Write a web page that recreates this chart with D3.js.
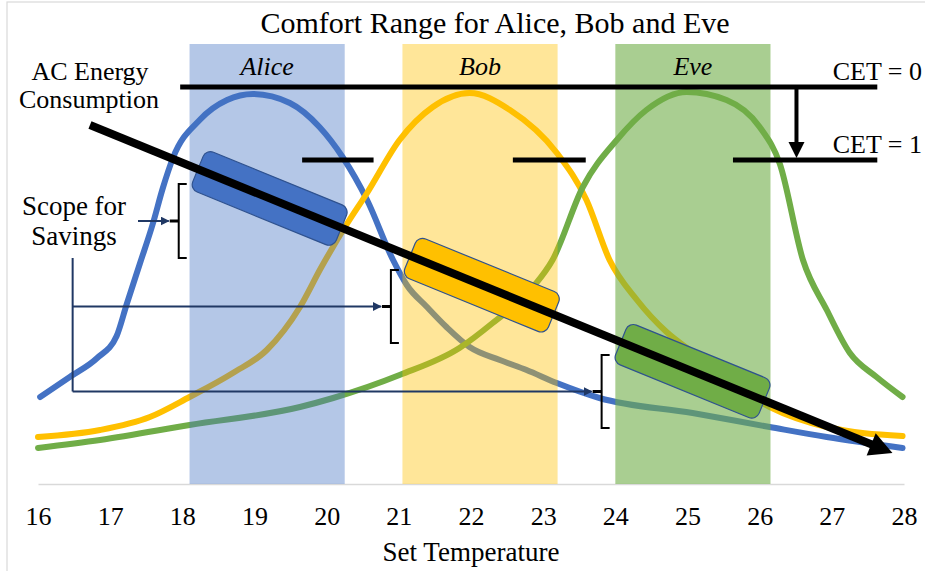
<!DOCTYPE html>
<html>
<head>
<meta charset="utf-8">
<script src="https://cdn.jsdelivr.net/npm/d3@7"></script>
<style>
  body { margin: 0; background: #fff; }
  svg { display: block; }
  text { font-family: "Liberation Serif", "Times New Roman", serif; fill: #000; }
</style>
</head>
<body>
<svg id="chart" width="925" height="571"></svg>
<script>
// ---- data ----------------------------------------------------------------
const xTicks = [16, 17, 18, 19, 20, 21, 22, 23, 24, 25, 26, 27, 28];
const people = ["Alice", "Bob", "Eve"];
const colors = ["#4472C4", "#FFC000", "#70AD47"];

// comfort curves (set temperature -> relative comfort)
const aliceT = [16.03, 16.44, 16.82, 17.09, 17.23, 17.41, 17.59, 17.73, 17.87, 18.24, 18.62, 18.98, 19.49, 19.9, 20.22, 20.56, 20.92, 21.11, 21.39, 21.66, 21.98, 22.4, 22.77, 23.19, 23.78, 25.07, 26.14, 26.93, 27.98];
const aliceV = [21.75, 26.75, 31.5, 37, 45, 55, 65, 74, 81.5, 91, 96, 97.5, 95.25, 89.25, 81.75, 71, 56, 49.75, 44.25, 39.25, 34.25, 31, 28.5, 25.25, 21.5, 17.75, 14.25, 11.75, 9];
const bobT = [16, 16.86, 17.55, 18.1, 18.7, 19.17, 19.63, 19.92, 20.28, 20.56, 21.01, 21.47, 21.98, 22.54, 23.19, 23.6, 23.92, 24.3, 24.71, 25.07, 26.14, 26.93, 27.98];
const bobV = [11.75, 13.5, 16.75, 21.75, 27.75, 33.5, 44.25, 54, 65, 72.75, 86, 94.25, 97.75, 93.5, 82.75, 71, 56, 46, 38, 33, 19.25, 14.25, 12];
const eveT = [16, 16.86, 18.1, 19.63, 20.09, 21.01, 21.84, 22.3, 22.86, 23.13, 23.55, 24.02, 24.43, 24.99, 25.54, 26, 26.28, 26.6, 26.93, 27.25, 27.62, 27.98];
const eveV = [9, 11, 14.75, 19.25, 21.5, 27.25, 34, 40.25, 49.25, 56, 74.25, 86, 93.5, 98, 96, 89.25, 80, 56, 43.5, 32.75, 26.75, 21.75];

// comfort ranges
const comfortLo = [18.1, 21.05, 24.0];
const comfortHi = [20.25, 23.2, 26.15];

// AC energy consumption trend (start, tip)
const consumptionT = [16.72, 27.84];
const consumptionV = [89.75, 7.75];
// savings boxes sit on the trend at these temperatures
const savingsT = [19.21, 22.15, 25.07];

// CET levels
const cetLabels = ["CET = 0", "CET = 1"];
const cetLevels = [99.25, 81];
const cet0Span = [17.97, 27.63];
const cet1Start = [19.66, 22.58, 25.63];
const cet1End = [20.65, 23.59, 27.63];
const cetArrowT = 26.51;

// scope-for-savings brackets
const bracketT = [17.95, 20.89, 23.81];
const bracketTop = [75, 53.5, 32.25];
const bracketBottom = [56.5, 35.25, 14];
const connectorT = 16.48;

// ---- layout --------------------------------------------------------------
const svg = d3.select("#chart");
const x = d3.scaleLinear().domain([16, 28]).range([38, 904]);
const y = d3.scaleLinear().domain([0, 110]).range([484, 44]);
const navy = "#203864";
const serif = '"Liberation Serif", "Times New Roman", serif';

svg.append("rect").attr("x", 7).attr("y", 2).attr("width", 940).attr("height", 600)
  .attr("fill", "none").attr("stroke", "#d9d9d9").attr("stroke-width", 1.2);

svg.append("defs").append("marker")
  .attr("id", "navyHead").attr("viewBox", "0 0 10 10").attr("refX", 9).attr("refY", 5)
  .attr("markerWidth", 4.5).attr("markerHeight", 4.5).attr("markerUnits", "strokeWidth")
  .attr("orient", "auto")
  .append("path").attr("d", "M0,0 L10,5 L0,10 Z").attr("fill", navy);

// title
svg.append("text").attr("x", 495).attr("y", 33).attr("text-anchor", "middle")
  .style("font-size", "30px").text("Comfort Range for Alice, Bob and Eve");

// x axis
const axis = svg.append("g").attr("transform", `translate(0,${y(0)})`)
  .call(d3.axisBottom(x).tickValues(xTicks).tickSize(0).tickPadding(23).tickFormat(d3.format("d")));
axis.attr("font-family", serif);
axis.select(".domain").attr("stroke", "#d9d9d9").attr("stroke-width", 1.5);
axis.selectAll("text").style("font-size", "26px").style("font-family", serif).attr("fill", "#000");
svg.append("text").attr("x", (x(16) + x(28)) / 2).attr("y", 561).attr("text-anchor", "middle")
  .style("font-size", "27px").text("Set Temperature");

// comfort curves
const line = d3.line().x(d => x(d[0])).y(d => y(d[1])).curve(d3.curveMonotoneX);
const series = [d3.zip(aliceT, aliceV), d3.zip(bobT, bobV), d3.zip(eveT, eveV)];
svg.append("g").selectAll("path").data(series).join("path")
  .attr("d", line).attr("fill", "none")
  .attr("stroke", (d, i) => colors[i]).attr("stroke-width", 6).attr("stroke-linecap", "round");

// comfort range bands (translucent, over the curves)
const bandOpacity = [0.4, 0.4, 0.6];
svg.append("g").selectAll("rect").data(people).join("rect")
  .attr("x", (d, i) => x(comfortLo[i]))
  .attr("width", (d, i) => x(comfortHi[i]) - x(comfortLo[i]))
  .attr("y", y(110)).attr("height", y(0) - y(110))
  .attr("fill", (d, i) => colors[i]).attr("fill-opacity", (d, i) => bandOpacity[i]);
svg.append("g").selectAll("text").data(people).join("text")
  .attr("x", (d, i) => (x(comfortLo[i]) + x(comfortHi[i])) / 2).attr("y", 75)
  .attr("text-anchor", "middle").style("font-size", "26px").style("font-style", "italic")
  .text(d => d);

// CET lines
const cetG = svg.append("g").attr("stroke", "#000").attr("stroke-width", 5);
cetG.append("line").attr("x1", x(cet0Span[0])).attr("x2", x(cet0Span[1]))
  .attr("y1", y(cetLevels[0])).attr("y2", y(cetLevels[0]));
cetG.selectAll("line.seg").data(cet1Start).join("line").attr("class", "seg")
  .attr("x1", d => x(d)).attr("x2", (d, i) => x(cet1End[i]))
  .attr("y1", y(cetLevels[1])).attr("y2", y(cetLevels[1]));
const ax = x(cetArrowT);
svg.append("line").attr("x1", ax).attr("x2", ax).attr("y1", y(cetLevels[0]))
  .attr("y2", y(cetLevels[1]) - 16).attr("stroke", "#000").attr("stroke-width", 4);
svg.append("path")
  .attr("d", `M${ax - 8},${y(cetLevels[1]) - 18} L${ax + 8},${y(cetLevels[1]) - 18} L${ax},${y(cetLevels[1]) - 2} Z`)
  .attr("fill", "#000");
svg.append("g").selectAll("text").data(cetLabels).join("text")
  .attr("x", 922).attr("y", (d, i) => y(cetLevels[i]) - 7).attr("text-anchor", "end")
  .style("font-size", "26px").text(d => d);

// scope-for-savings connectors
const conn = svg.append("g").attr("stroke", navy).attr("stroke-width", 2).attr("fill", "none");
const cx0 = x(connectorT);
const mid = i => (y(bracketTop[i]) + y(bracketBottom[i])) / 2;
conn.append("line").attr("x1", cx0).attr("x2", cx0).attr("y1", y(bracketBottom[0])).attr("y2", mid(2));
conn.append("line").attr("x1", cx0).attr("x2", x(bracketT[1]) - 10).attr("y1", mid(1)).attr("y2", mid(1))
  .attr("marker-end", "url(#navyHead)");
conn.append("line").attr("x1", cx0).attr("x2", x(bracketT[2]) - 10).attr("y1", mid(2)).attr("y2", mid(2))
  .attr("marker-end", "url(#navyHead)");
conn.append("line").attr("x1", 138).attr("x2", x(bracketT[0]) - 10).attr("y1", mid(0)).attr("y2", mid(0))
  .attr("marker-end", "url(#navyHead)");

// brackets
const br = svg.append("g").attr("stroke", "#000").attr("fill", "none");
people.forEach((p, i) => {
  const bx = x(bracketT[i]), t = y(bracketTop[i]), b = y(bracketBottom[i]);
  br.append("path").attr("d", `M${bx + 8},${t} L${bx},${t} L${bx},${b} L${bx + 8},${b}`)
    .attr("stroke-width", 2);
  br.append("line").attr("x1", bx).attr("x2", bx - 9).attr("y1", mid(i)).attr("y2", mid(i))
    .attr("stroke-width", 3);
});

// savings boxes along the consumption trend
const p0 = [x(consumptionT[0]), y(consumptionV[0])];
const p1 = [x(consumptionT[1]), y(consumptionV[1])];
const slope = (consumptionV[1] - consumptionV[0]) / (consumptionT[1] - consumptionT[0]);
const angle = Math.atan2(p1[1] - p0[1], p1[0] - p0[0]) * 180 / Math.PI;
svg.append("g").selectAll("g").data(savingsT).join("g")
  .attr("transform", d => `translate(${x(d)},${y(consumptionV[0] + slope * (d - consumptionT[0]))}) rotate(${angle})`)
  .append("rect").attr("x", -77.5).attr("y", -21.5).attr("width", 155).attr("height", 43)
  .attr("rx", 8).attr("fill", (d, i) => colors[i]).attr("stroke", "#2F528F").attr("stroke-width", 1.2);

// consumption arrow
const len = Math.hypot(p1[0] - p0[0], p1[1] - p0[1]);
const ux = (p1[0] - p0[0]) / len, uy = (p1[1] - p0[1]) / len;
const headL = 23, headW = 12;
const base = [p1[0] - ux * headL, p1[1] - uy * headL];
svg.append("line").attr("x1", p0[0]).attr("y1", p0[1]).attr("x2", base[0] + ux * 2).attr("y2", base[1] + uy * 2)
  .attr("stroke", "#000").attr("stroke-width", 8);
svg.append("path")
  .attr("d", `M${p1[0]},${p1[1]} L${base[0] - uy * headW},${base[1] + ux * headW} L${base[0] + uy * headW},${base[1] - ux * headW} Z`)
  .attr("fill", "#000");

// annotation labels
const ann = svg.append("g").attr("text-anchor", "middle");
ann.append("text").attr("x", 90).attr("y", 80).style("font-size", "26px").text("AC Energy");
ann.append("text").attr("x", 89).attr("y", 108).style("font-size", "26px").text("Consumption");
ann.append("text").attr("x", 74).attr("y", 215).style("font-size", "27px").text("Scope for");
ann.append("text").attr("x", 74).attr("y", 245).style("font-size", "27px").text("Savings");
</script>
</body>
</html>
